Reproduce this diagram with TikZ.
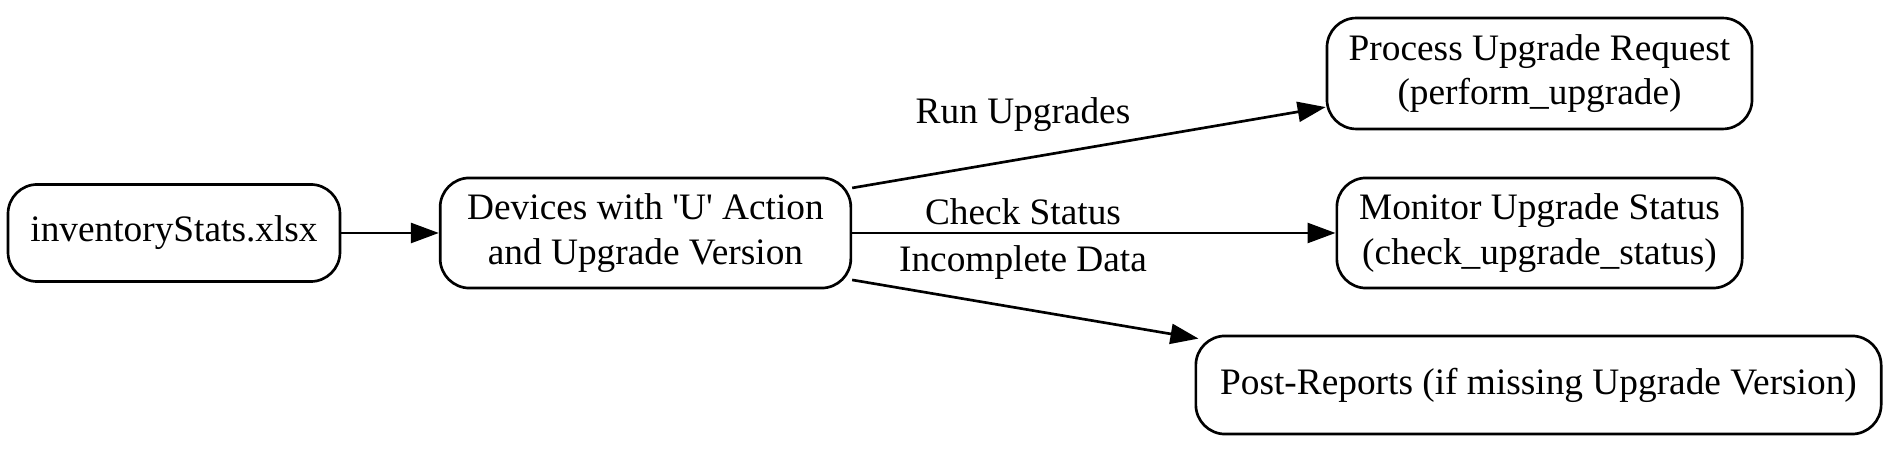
\documentclass[tikz,border=0pt]{standalone}
\usepackage{fontspec}
\setmainfont{Liberation Serif}
\usetikzlibrary{arrows.meta}
\begin{document}
\begin{tikzpicture}[x=0.375pt,y=-0.375pt,
  box/.style={draw,line width=1pt,rounded corners=11pt,inner sep=0pt,align=center,
    font=\fontsize{14}{16.8}\selectfont},
  lbl/.style={inner sep=0pt,font=\fontsize{14}{16.8}\selectfont},
  edge/.style={line width=1pt,-{Triangle[length=10.5pt,width=7.5pt]}}]
\useasboundingbox (0,0) rectangle (1891,454);
\node[box,minimum width=124.5pt,minimum height=36.4pt] (n1) at (174,233) {inventoryStats.xlsx};
\node[box,minimum width=154pt,minimum height=41.3pt] (n2) at (645.5,233) {Devices with \textquotesingle U\textquotesingle{} Action\\and Upgrade Version};
\node[box,minimum width=159.4pt,minimum height=41.6pt] (n3) at (1539.5,73.5) {Process Upgrade Request\\(perform\_upgrade)};
\node[box,minimum width=152pt,minimum height=41.3pt] (n4) at (1539.5,233) {Monitor Upgrade Status\\(check\_upgrade\_status)};
\node[box,minimum width=257pt,minimum height=36.8pt] (n5) at (1538.5,385) {Post-Reports (if missing Upgrade Version)};
\draw[edge] (n1) -- (n2);
\draw[edge] ([yshift=16.9pt]n2.east) -- ([yshift=-12.6pt]n3.west);
\draw[edge] (n2) -- (n4);
\draw[edge] ([yshift=-17.6pt]n2.east) -- ([xshift=1.5pt,yshift=-1.5pt]n5.north west);
\node[lbl] (l1) at (1023,115) {Run Upgrades};
\node[lbl] (l2) at (1023,212) {Check Status};
\node[lbl] (l3) at (1023,263) {Incomplete Data};
\end{tikzpicture}
\end{document}
